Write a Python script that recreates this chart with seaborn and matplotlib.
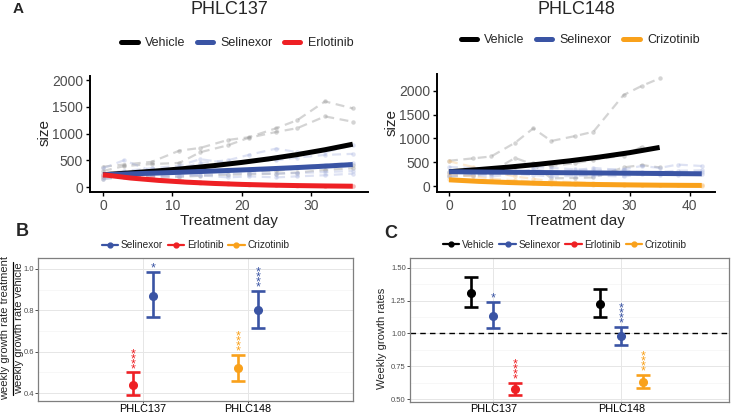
import numpy as np
import pandas as pd
import seaborn as sns
import matplotlib
matplotlib.use('Agg')
from matplotlib import pyplot as plt
from matplotlib.lines import Line2D

sns.set_style('white')
plt.rcParams['font.family'] = ['Liberation Sans', 'DejaVu Sans']

col = {'Vehicle': 'black', 'Selinexor': '#3A54A4', 'Erlotinib': '#EE2024', 'Crizotinib': '#F9A11B'}
trace_col = {'Vehicle': '#9A9A9A', 'Selinexor': '#A9B5E0', 'Erlotinib': '#F2A0A0', 'Crizotinib': '#F9C98A'}
trace_alpha = {'Vehicle': 0.42, 'Selinexor': 0.38, 'Erlotinib': 0.35, 'Crizotinib': 0.4}

# ---- panel A, PHLC137 individual tumours
days137 = [0, 3, 7, 11, 14, 18, 21, 25, 28, 32, 36]
veh137 = [[380, 420, 470, 680, 730, 880, 930, 1100, 1250, 1600, 1470],
          [300, 390, 430, 450, 650, 780, 920, 1030, 1100, 1320, 1220],
          [150, 200, 240, 300, 330, 300, 300, 300, 350, 400, 420],
          [180, 220, 200, 190, 210, 230, 240, 250, 270, 320, 350]]
sel137 = [[350, 500, 300, 350, 450, 500, 600, 720, 650, 650, 780],
          [250, 300, 350, 400, 520, 450, 480, 500, 550, 600, 620],
          [200, 220, 250, 280, 300, 320, 330, 350, 380, 420, 450],
          [150, 180, 200, 220, 230, 250, 260, 250, 260, 280, 300],
          [220, 200, 180, 200, 220, 180, 200, 180, 200, 220, 250]]
erl137 = [[250, 220, 180, 130, 100, 70, 50, 40, 30, 20, 15],
          [200, 180, 150, 110, 80, 60, 45, 35, 25, 20, 10],
          [220, 200, 160, 120, 90, 70, 55, 40, 30, 25, 20]]

# fitted curves PHLC137
fitdays137 = [0, 4, 8, 12, 16, 20, 24, 28, 32, 36]
fitveh137 = [230, 265, 303, 348, 400, 460, 528, 606, 697, 800]
fitsel137 = [230, 246, 262, 280, 299, 319, 341, 364, 390, 420]
fiterl137 = [230, 168, 124, 91, 67, 49, 36, 27, 20, 15]

# ---- panel A, PHLC148 individual tumours
days148 = [0, 4, 7, 11, 14, 17, 21, 24, 29, 32, 35, 38, 42]
veh148 = [[530, 580, 620, 910, 1210, 945, 1050, 1140, 1910, 2100, 2260],
          [300, 320, 300, 590, 450, 160, 170, 180, 390, 440, 390],
          [200, 230, 280, 400, 480, 420, 480, 550, 640, 820]]
sel148 = [[400, 380, 350, 420, 400, 380, 350, 330, 350, 420, 380, 450, 420],
          [300, 280, 250, 300, 320, 280, 300, 250, 280, 300, 250, 280, 300],
          [200, 220, 200, 250, 230, 200, 210, 220, 200, 250, 230, 240, 250],
          [250, 230, 260, 280, 350, 300, 330, 380, 330, 280, 300, 320, 330]]
cri148 = [[520, 400, 300, 200, 150, 100, 80, 60, 40, 30, 25, 20, 15],
          [150, 120, 100, 80, 60, 50, 40, 30, 25, 20, 15, 12, 10],
          [250, 200, 150, 120, 90, 70, 50, 40, 30, 25, 20, 15, 12]]

fitdays148 = [0, 5, 10, 15, 20, 25, 30, 35, 40, 42]
fitveh148 = [300, 346, 398, 458, 528, 608, 700, 810]
fitsel148 = [300, 294, 289, 283, 278, 273, 268, 263, 258, 256]
fitcri148 = [130, 97, 73, 55, 41, 31, 23, 17, 13, 12]

# ---- panel B: growth rate ratio
b_models = ['PHLC137', 'PHLC137', 'PHLC148', 'PHLC148']
b_drugs = ['Erlotinib', 'Selinexor', 'Crizotinib', 'Selinexor']
b_mean = [0.44, 0.87, 0.52, 0.80]
b_lo = [0.39, 0.77, 0.46, 0.715]
b_hi = [0.50, 0.985, 0.585, 0.895]
b_stars = ['****', '*', '****', '****']

# ---- panel C: weekly growth rates
c_models = ['PHLC137', 'PHLC137', 'PHLC137', 'PHLC148', 'PHLC148', 'PHLC148']
c_drugs = ['Vehicle', 'Selinexor', 'Erlotinib', 'Vehicle', 'Selinexor', 'Crizotinib']
c_mean = [1.305, 1.135, 0.575, 1.225, 0.98, 0.635]
c_lo = [1.20, 1.04, 0.53, 1.125, 0.915, 0.59]
c_hi = [1.425, 1.24, 0.625, 1.335, 1.05, 0.685]
c_stars = ['', '*', '****', '', '****', '****']

models = ['PHLC137', 'PHLC148']

W, H = 733, 416
def fx(px):
    return px / W
def fy(py):
    return 1 - py / H

fig = plt.figure(figsize=(7.33, 4.16), dpi=100)


def traces_df(days, groups):
    rows = []
    for drug, mice in groups.items():
        for i, vals in enumerate(mice):
            for d, v in zip(days, vals):
                rows.append({'day': d, 'size': v, 'mouse': drug + str(i), 'drug': drug})
    return pd.DataFrame(rows)


def panel_a(rect, days, groups, fits, xlim, ylim, xticks, title, tx, legx, sizey):
    ax = fig.add_axes(rect)
    df = traces_df(days, groups)
    for drug in groups:
        sub = df[df['drug'] == drug]
        sns.lineplot(data=sub, x='day', y='size', units='mouse', estimator=None,
                     color=trace_col[drug], alpha=trace_alpha[drug], lw=1.6,
                     linestyle=(0, (4, 2.5)), marker='o', markersize=3.2,
                     markeredgewidth=0, ax=ax, legend=False)
    for drug, (fd, fv) in fits.items():
        sns.lineplot(x=fd[:len(fv)], y=fv, color=col[drug], lw=3.6, ax=ax,
                     legend=False, solid_capstyle='butt')
    ax.set_xlim(*xlim)
    ax.set_ylim(*ylim)
    ax.set_xticks(xticks)
    ax.set_yticks([0, 500, 1000, 1500, 2000])
    ax.set_xlabel('')
    ax.set_ylabel('')
    sns.despine(ax=ax)
    for s in ['left', 'bottom']:
        ax.spines[s].set_linewidth(1.4)
        ax.spines[s].set_color('black')
    ax.tick_params(axis='both', length=3, width=1, color='black', labelsize=10,
                   labelcolor='#4D4D4D', pad=2, bottom=True, left=True)
    handles = [Line2D([], [], color=col[d], lw=3.6) for d in fits]
    ax.legend(handles, list(fits.keys()), loc='center', ncol=3,
              bbox_to_anchor=(legx, 1.285), frameon=False, fontsize=9,
              handlelength=1.3, handletextpad=0.6, columnspacing=0.9)
    fig.text(fx(tx), fy(9), title, ha='center', va='center', fontsize=13)
    fig.text(fx(tx), fy(221), 'Treatment day', ha='center', va='center', fontsize=11)
    fig.text(fx(rect[0] * W - 45), fy(sizey), 'size', ha='center', va='center',
             rotation=90, fontsize=11)
    return ax


panel_a([fx(90), fy(192), 278 / W, 116 / H], days137,
        {'Vehicle': veh137, 'Selinexor': sel137, 'Erlotinib': erl137},
        {'Vehicle': (fitdays137, fitveh137), 'Selinexor': (fitdays137, fitsel137),
         'Erlotinib': (fitdays137, fiterl137)},
        (-1.88, 38.2), (-93, 2075), [0, 10, 20, 30], 'PHLC137', 229, 0.53, 133)

panel_a([fx(437), fy(192), 278 / W, 118 / H], days148,
        {'Vehicle': veh148, 'Selinexor': sel148, 'Crizotinib': cri148},
        {'Vehicle': (fitdays148, fitveh148), 'Selinexor': (fitdays148, fitsel148),
         'Crizotinib': (fitdays148, fitcri148)},
        (-1.99, 44.2), (-126, 2352), [0, 10, 20, 30, 40], 'PHLC148', 576, 0.515, 123)


def panel_gr(rect, mdl, drugs, mean, lo, hi, stars, offsets, xlim, ylim, yticks,
             minor, fmt, legend_drugs, legx):
    ax = fig.add_axes(rect)
    ax.set_xlim(*xlim)
    ax.set_ylim(*ylim)
    ax.set_axisbelow(True)
    for m in minor:
        ax.axhline(m, color='#F4F4F4', lw=0.5, zorder=0)
    for t in yticks:
        ax.axhline(t, color='#E6E6E6', lw=0.7, zorder=0)
    for i in range(len(models)):
        ax.axvline(i, color='#E6E6E6', lw=0.7, zorder=0)
    for m, d, mu, l, h, st in zip(mdl, drugs, mean, lo, hi, stars):
        x = models.index(m) + offsets[d]
        ax.errorbar([x], [mu], yerr=[[mu - l], [h - mu]], fmt='o', color=col[d],
                    ms=5.5, capsize=4.8, elinewidth=1.9, capthick=1.9, zorder=3)
        if st:
            ax.annotate('\n'.join(st), (x, h), xytext=(0, -2.0), textcoords='offset points',
                        ha='center', va='bottom', color=col[d], fontsize=9,
                        linespacing=0.22, zorder=4)
    ax.set_xticks(range(len(models)))
    ax.set_xticklabels(models)
    ax.set_yticks(yticks)
    ax.set_yticklabels([fmt % t for t in yticks])
    ax.tick_params(axis='y', length=2, width=0.6, color='#333333', labelsize=5.5,
                   labelcolor='#4D4D4D', pad=1, left=True)
    ax.tick_params(axis='x', length=1.5, width=0.6, color='#333333', labelsize=7.8,
                   labelcolor='black', pad=0.3, bottom=True)
    for s in ax.spines.values():
        s.set_color('#7F7F7F')
        s.set_linewidth(0.9)
    handles = [Line2D([], [], color=col[d], marker='o', ms=3.5, lw=1.6) for d in legend_drugs]
    ax.legend(handles, legend_drugs, loc='center', ncol=len(legend_drugs),
              bbox_to_anchor=(legx, 1.09), frameon=False, fontsize=7.3,
              handlelength=1.6, handletextpad=0.25, columnspacing=0.5)
    return ax


axb = panel_gr([fx(38), fy(401), 315 / W, 143 / H], b_models, b_drugs, b_mean, b_lo, b_hi,
               b_stars, {'Erlotinib': -0.095, 'Crizotinib': -0.095, 'Selinexor': 0.095},
               (-1.0, 2.0), (0.362, 1.053), [0.4, 0.6, 0.8, 1.0], [0.5, 0.7, 0.9],
               '%.1f', ['Selinexor', 'Erlotinib', 'Crizotinib'], 0.5)

axc = panel_gr([fx(410), fy(402), 319 / W, 144 / H], c_models, c_drugs, c_mean, c_lo, c_hi,
               c_stars, {'Vehicle': -0.17, 'Selinexor': 0.0, 'Erlotinib': 0.17, 'Crizotinib': 0.17},
               (-0.65, 1.84), (0.48, 1.573), [0.5, 0.75, 1.0, 1.25, 1.5],
               [0.625, 0.875, 1.125, 1.375], '%.2f',
               ['Vehicle', 'Selinexor', 'Erlotinib', 'Crizotinib'], 0.485)
axc.axhline(1.0, color='black', lw=1.0, linestyle=(0, (4, 3)), zorder=2)

# y labels of B (a fraction) and C
fig.text(fx(12), fy(328), 'weekly growth rate treatment\nweekly growth rate vehicle',
         rotation=90, ha='center', va='center', fontsize=8, linespacing=1.45,
         multialignment='center')
fig.add_artist(Line2D([fx(12.5), fx(12.5)], [fy(262), fy(395)], color='black', lw=0.9))
fig.text(fx(382), fy(338), 'Weekly growth rates', rotation=90, ha='center',
         va='center', fontsize=8)

# panel letters
fig.text(fx(18), fy(9), 'A', ha='center', va='center', fontsize=11, fontweight='bold')
fig.text(fx(22), fy(232), 'B', ha='center', va='center', fontsize=13, fontweight='bold')
fig.text(fx(391), fy(233), 'C', ha='center', va='center', fontsize=13, fontweight='bold')

fig.savefig('out.png', dpi=100)
